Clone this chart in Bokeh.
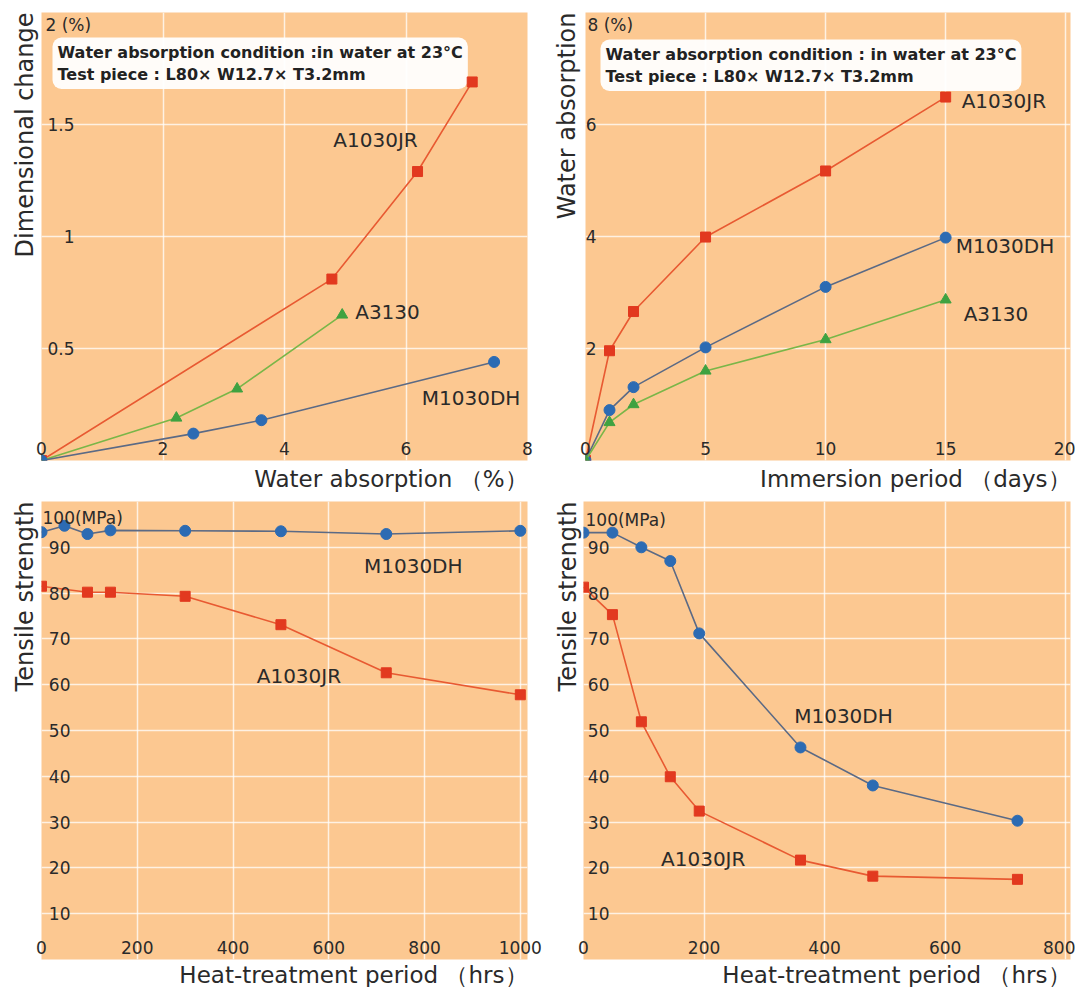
from bokeh.plotting import figure
from bokeh.layouts import column, row
from bokeh.models import Label, Title
from bokeh.embed import file_html
from bokeh.resources import INLINE

# ---------------- data ----------------
# Top-left: dimensional change vs water absorption
dim_x_ticks = [0, 2, 4, 6, 8]
dim_y_ticks = [0.5, 1, 1.5]
dim_y_top_label = "2 (%)"
dim_a1030jr_wa = [0, 4.78, 6.19, 7.09]
dim_a1030jr = [0, 0.81, 1.29, 1.69]
dim_a3130_wa = [0, 2.22, 3.22, 4.95]
dim_a3130 = [0, 0.19, 0.32, 0.65]
dim_m1030dh_wa = [0, 2.50, 3.62, 7.45]
dim_m1030dh = [0, 0.12, 0.18, 0.44]

# Top-right: water absorption vs immersion period
imm_x_ticks = [0, 5, 10, 15, 20]
imm_y_ticks = [2, 4, 6]
imm_y_top_label = "8 (%)"
imm_days = [0, 1, 2, 5, 10, 15]
imm_a1030jr = [0, 1.96, 2.66, 3.99, 5.17, 6.49]
imm_m1030dh = [0, 0.90, 1.31, 2.02, 3.10, 3.98]
imm_a3130 = [0, 0.68, 1.00, 1.60, 2.16, 2.87]

# Bottom: tensile strength vs heat-treatment period
ts_y_ticks = [10, 20, 30, 40, 50, 60, 70, 80, 90]
ts_y_top_label = "100(MPa)"
ht1_x_ticks = [0, 200, 400, 600, 800, 1000]
ht1_m_hrs = [0, 48, 96, 144, 300, 500, 720, 1000]
ht1_m1030dh = [93.3, 94.7, 92.9, 93.7, 93.6, 93.5, 92.9, 93.6]
ht1_a_hrs = [0, 96, 144, 300, 500, 720, 1000]
ht1_a1030jr = [81.5, 80.2, 80.2, 79.3, 73.1, 62.6, 57.8]

ht2_x_ticks = [0, 200, 400, 600, 800]
ht2_hrs = [0, 48, 96, 144, 192, 360, 480, 720]
ht2_m1030dh = [93.2, 93.2, 90.0, 87.0, 71.2, 46.3, 38.0, 30.3]
ht2_a1030jr = [81.3, 75.3, 51.9, 39.9, 32.4, 21.7, 18.2, 17.5]

# ---------------- style ----------------
BG = "#FCC891"
RED = "#E2391F"
RED_LINE = "#E85A32"
BLUE = "#2C6BB3"
BLUE_LINE = "#5B6A85"
GREEN = "#3FA241"
GREEN_LINE = "#7AB648"
TXT = "#2a2a2a"
FONT = "DejaVu Sans"


def make_fig(width, height, xr, yr, borders, xticks, yticks, xlabel, ylabel,
             ylab_standoff, ytitle_standoff, xtitle_standoff):
    bl, br, bt, bb = borders
    p = figure(width=width, height=height, x_range=xr, y_range=yr,
               output_backend="svg", toolbar_location=None, tools="")
    p.min_border_left = bl
    p.min_border_right = br
    p.min_border_top = bt
    p.min_border_bottom = bb
    p.background_fill_color = BG
    p.border_fill_color = "white"
    p.outline_line_color = None
    p.xaxis.ticker = xticks
    p.yaxis.ticker = yticks
    for ax in p.axis:
        ax.axis_line_color = None
        ax.major_tick_line_color = None
        ax.minor_tick_line_color = None
        ax.major_tick_out = 0
        ax.major_tick_in = 0
        ax.major_label_text_font = FONT
        ax.major_label_text_font_size = "17px"
        ax.major_label_text_color = TXT
    p.xaxis.major_label_standoff = -19
    p.yaxis.major_label_standoff = ylab_standoff
    # axis titles, aligned to the end of each axis as in the original
    p.add_layout(Title(text=xlabel, align="right", text_font=FONT,
                       text_font_size="23px", text_font_style="normal",
                       text_color=TXT, standoff=xtitle_standoff), "below")
    p.add_layout(Title(text=ylabel, align="right", text_font=FONT,
                       text_font_size="24px", text_font_style="normal",
                       text_color=TXT, standoff=ytitle_standoff), "left")
    p.grid.grid_line_color = "white"
    p.grid.grid_line_alpha = 0.75
    p.grid.grid_line_width = 1.5
    return p


def add_label(p, x, y, text, xo, yo, align="center", size="20px"):
    p.add_layout(Label(x=x, y=y, text=text, x_offset=xo, y_offset=yo,
                       text_align=align, text_baseline="middle",
                       text_font=FONT, text_font_size=size, text_color=TXT))


def add_note(p, x, y, text, xo, yo):
    lab = Label(x=x, y=y, text=text, x_offset=xo, y_offset=yo,
                text_align="left", text_baseline="top",
                text_font=FONT, text_font_size="16px", text_font_style="bold",
                text_color="#222222", text_line_height=1.18,
                background_fill_color="white", background_fill_alpha=0.95,
                level="underlay")
    props = lab.properties()
    if "padding" in props:
        lab.padding = 5
    if "border_radius" in props:
        lab.border_radius = 9
    p.add_layout(lab)


def red_series(p, xs, ys):
    p.line(xs, ys, line_color=RED_LINE, line_width=1.6)
    p.scatter(xs, ys, marker="square", size=10, fill_color=RED, line_color=RED)


def blue_series(p, xs, ys):
    p.line(xs, ys, line_color=BLUE_LINE, line_width=1.6)
    p.scatter(xs, ys, marker="circle", size=11, fill_color=BLUE, line_color=BLUE)


def green_series(p, xs, ys):
    p.line(xs, ys, line_color=GREEN_LINE, line_width=1.6)
    p.scatter(xs, ys, marker="triangle", size=11, fill_color=GREEN, line_color=GREEN)


# ---------------- top-left ----------------
p1 = make_fig(548, 494, (0, 8), (0, 2), (41, 21, 12, 34),
              dim_x_ticks, dim_y_ticks,
              "Water absorption \uff08%\uff09", "Dimensional change", -33, 6, 6)
add_note(p1, dim_x_ticks[0], 2,
         "Water absorption condition :in water at 23\u00b0C\nTest piece : L80\u00d7 W12.7\u00d7 T3.2mm",
         11, -25)
red_series(p1, dim_a1030jr_wa, dim_a1030jr)
green_series(p1, dim_a3130_wa, dim_a3130)
blue_series(p1, dim_m1030dh_wa, dim_m1030dh)
add_label(p1, dim_a1030jr_wa[2], dim_a1030jr[2], "A1030JR", -42, 32)
add_label(p1, dim_a3130_wa[3], dim_a3130[3], "A3130", 13, 3, align="left")
add_label(p1, dim_m1030dh_wa[3], dim_m1030dh[3], "M1030DH", -23, -36)
add_label(p1, dim_x_ticks[0], 2, dim_y_top_label, 4, -12, align="left", size="17px")

# ---------------- top-right ----------------
p2 = make_fig(527, 494, (0, 20.2), (0, 8), (35, 5, 12, 34),
              imm_x_ticks, imm_y_ticks,
              "Immersion period \uff08days\uff09", "Water absorption", -11, 4, 6)
add_note(p2, imm_x_ticks[0], 8,
         "Water absorption condition : in water at 23\u00b0C\nTest piece : L80\u00d7 W12.7\u00d7 T3.2mm",
         15, -27)
red_series(p2, imm_days, imm_a1030jr)
blue_series(p2, imm_days, imm_m1030dh)
green_series(p2, imm_days, imm_a3130)
add_label(p2, imm_days[-1], imm_a1030jr[-1], "A1030JR", 16, -4, align="left")
add_label(p2, imm_days[-1], imm_m1030dh[-1], "M1030DH", 10, -8, align="left")
add_label(p2, imm_days[-1], imm_a3130[-1], "A3130", 18, -14, align="left")
add_label(p2, imm_x_ticks[0], 8, imm_y_top_label, 2, -12, align="left", size="17px")

# ---------------- bottom-left ----------------
p3 = make_fig(548, 493, (0, 1015), (0, 100), (41, 21, 7, 28),
              ht1_x_ticks, ts_y_ticks,
              "Heat-treatment period \uff08hrs\uff09", "Tensile strength", -29, 6, 0)
blue_series(p3, ht1_m_hrs, ht1_m1030dh)
red_series(p3, ht1_a_hrs, ht1_a1030jr)
add_label(p3, ht1_m_hrs[6], ht1_m1030dh[6], "M1030DH", 27, -32)
add_label(p3, ht1_a_hrs[4], ht1_a1030jr[4], "A1030JR", 18, -51)
add_label(p3, ht1_x_ticks[0], 100, ts_y_top_label, 1, -16, align="left", size="17px")

# ---------------- bottom-right ----------------
p4 = make_fig(527, 493, (0, 808), (0, 100), (35, 5, 7, 28),
              ht2_x_ticks, ts_y_ticks,
              "Heat-treatment period \uff08hrs\uff09", "Tensile strength", -26, 4, 0)
blue_series(p4, ht2_hrs, ht2_m1030dh)
red_series(p4, ht2_hrs, ht2_a1030jr)
add_label(p4, ht2_hrs[5], ht2_m1030dh[5], "M1030DH", 43, 31)
add_label(p4, ht2_hrs[4], ht2_a1030jr[4], "A1030JR", 4, -48)
add_label(p4, ht2_x_ticks[0], 100, ts_y_top_label, 2, -18, align="left", size="17px")

layout = column(row(p1, p2), row(p3, p4))
open("out.html", "w").write(file_html(layout, INLINE, title="Water absorption and heat resistance"))
